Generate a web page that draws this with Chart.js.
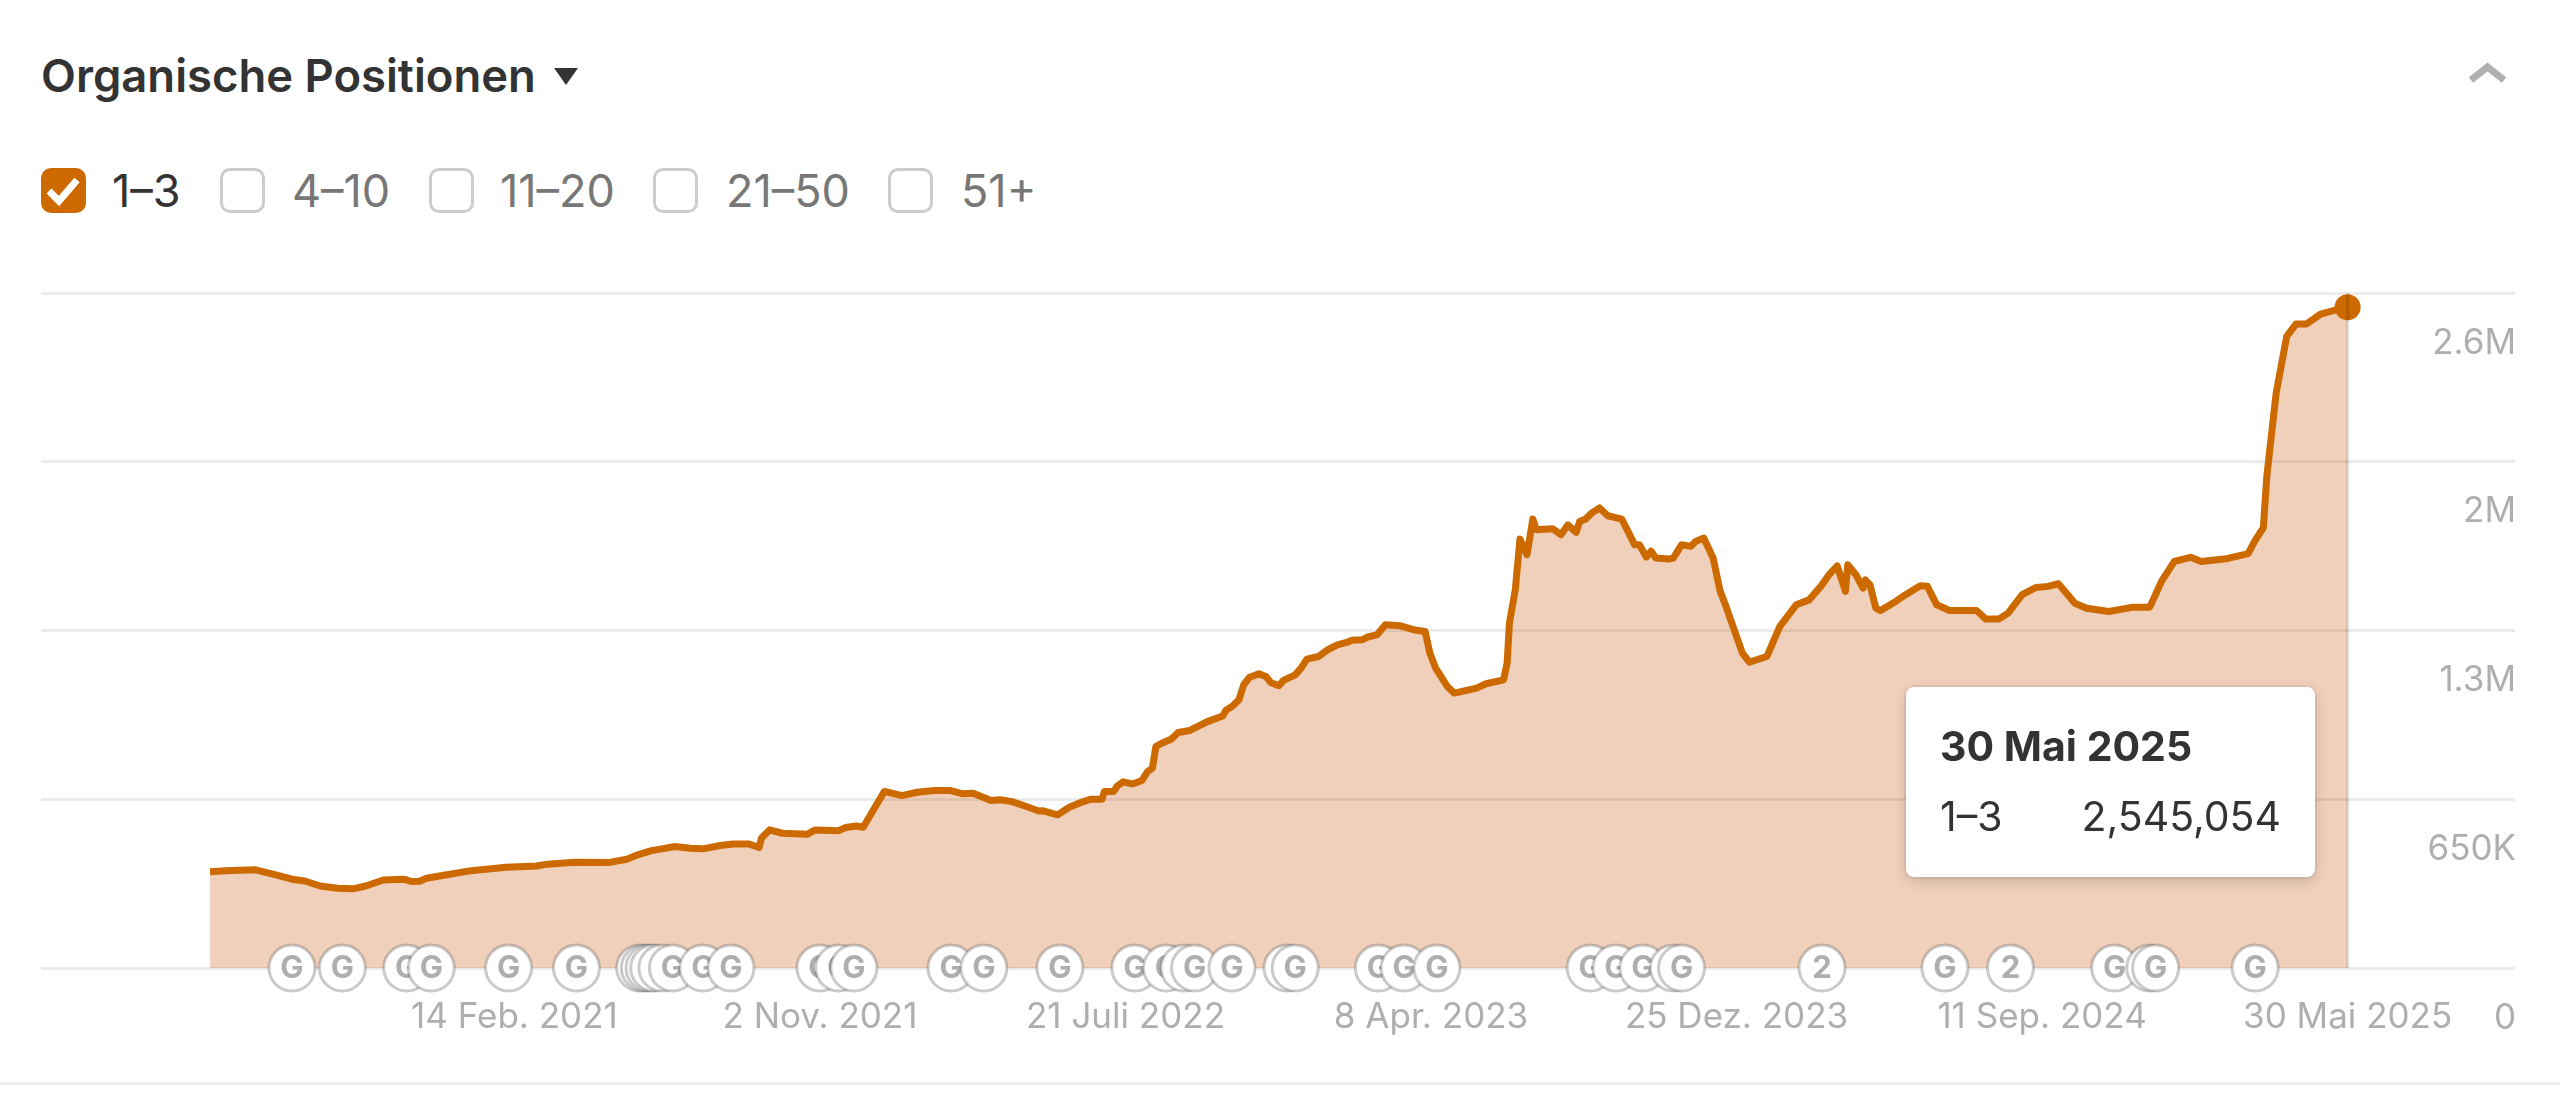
<!DOCTYPE html>
<html><head><meta charset="utf-8">
<script src="https://cdn.jsdelivr.net/npm/chart.js@4"></script>
<style>
html,body{margin:0;padding:0;background:#fff;width:2560px;height:1118px;overflow:hidden;font-family:Inter,sans-serif;color:#333}
#wrap{position:absolute;left:0;top:0;width:2560px;height:1118px}
canvas{position:absolute;left:0;top:0}
.title{position:absolute;left:41px;top:51px;font-size:45.4px;line-height:50px;font-weight:600;color:#333;white-space:nowrap}
.tri{position:absolute;left:554px;top:68px;width:0;height:0;border-left:12.5px solid transparent;border-right:12.5px solid transparent;border-top:17px solid #333}
.chev{position:absolute;left:2465px;top:58px}
.cb{position:absolute;top:168px;width:45px;height:45px;box-sizing:border-box;border:3px solid #ccc;border-radius:10px;background:#fff}
.cb.on{background:#cc6a00;border-color:#cc6a00}
.cb svg{position:absolute;left:-3px;top:-3px}
.lg{position:absolute;top:166px;font-size:45px;line-height:50px;color:#777;white-space:nowrap}
.lg.on{color:#333}
.rule{position:absolute;left:0;right:0;top:1082px;height:3px;background:#ececec}
#tip{position:absolute;box-sizing:border-box;background:#fff;border-radius:8px;box-shadow:0 4px 14px rgba(0,0,0,.16),0 0 0 2px rgba(0,0,0,.05);font-family:Inter,sans-serif;color:#333}
#tip .t{position:absolute;left:34px;top:35px;font-size:41px;line-height:48px;font-weight:700;white-space:nowrap}
#tip .n{position:absolute;left:34px;top:105px;font-size:41px;line-height:48px;white-space:nowrap}
#tip .v{position:absolute;right:34px;top:105px;font-size:41px;line-height:48px;white-space:nowrap}
</style></head><body>
<div id="wrap">
<div class="title">Organische Positionen</div><div class="tri"></div>
<svg class="chev" width="46" height="30" viewBox="0 0 46 30"><polyline points="6,22 22.5,9 39,22" fill="none" stroke="#b0b0b0" stroke-width="7"/></svg>
<div id="legend"></div>
<canvas id="c" width="2560" height="1118" style="width:2560px;height:1118px"></canvas>
<div class="rule"></div>
</div>
<script>
const seriesName = "1–3";
const legendNames = ["1–3","4–10","11–20","21–50","51+"];
const legendBoxX = [41,220,429,653,888];
const legendTextX = [112,292,500,726,961];
const xTickDays = [260,521,782,1043,1304,1565,1826];
const xTickLabels = ["14 Feb. 2021","2 Nov. 2021","21 Juli 2022","8 Apr. 2023","25 Dez. 2023","11 Sep. 2024","30 Mai 2025"];
const yTickValues = [0,650000,1300000,1950000,2600000];
const yTickLabels = ["0","650K","1.3M","2M","2.6M"];
const tooltipDate = "30 Mai 2025";
const tooltipValue = "2,545,054";
const seriesDays = [0,13,39,57,70,81,94,109,122,133,148,166,172,179,185,201,223,253,279,288,312,340,356,366,377,386,397,410,421,436,447,460,469,471,478,489,510,517,537,543,552,558,565,576,591,604,619,632,643,652,667,
675,685,695,708,711,724,734,745,752,762,764,772,775,780,788,796,801,805,808,813,821,827,837,852,865,868,873,879,883,888,896,902,906,913,917,927,932,937,947,955,963,971,975,984,989,997,1004,1017,
1028,1038,1042,1047,1057,1063,1082,1090,1105,1108,1110,1115,1119,1125,1130,1133,1147,1154,1160,1167,1170,1175,1181,1187,1194,1206,1212,1217,1221,1227,1231,1235,1246,1250,1257,1265,1269,1276,1284,1290,1295,1305,1309,1315,1330,1341,1355,1366,1376,1383,1390,1397,1399,1406,1412,1414,1418,1423,1427,1440,1446,1461,1467,1475,1486,1509,1517,1528,1536,
1548,1560,1570,1579,1593,1603,1622,1643,1657,1667,1678,1692,1701,1722,1741,1747,1754,1757,1765,1774,1782,1791,1803,1817,1826];
const seriesThousands = [371,375,378,358,342,335,316,307,305,316,339,342,333,334,346,358,375,388,393,400,407,406,419,437,452,459,468,461,459,472,478,478,464,500,532,519,515,532,529,541,547,542,596,680,664,677,684,684,671,673,645,
648,641,626,605,606,590,619,639,650,650,680,680,701,717,709,722,757,770,853,866,881,907,915,949,971,994,1007,1033,1091,1120,1133,1123,1100,1087,1108,1129,1155,1190,1200,1226,1245,1254,1262,1264,1275,1284,1322,1318,
1303,1296,1213,1155,1084,1059,1078,1095,1110,1174,1328,1457,1652,1592,1729,1688,1692,1669,1707,1678,1720,1729,1755,1772,1742,1729,1675,1630,1630,1583,1605,1579,1575,1579,1630,1624,1643,1656,1579,1451,1393,1264,1213,1178,1200,1316,1399,1418,1470,1515,1549,1451,1553,1515,1463,1495,1476,1386,1377,1412,1431,1472,1470,1399,1377,1377,1344,1344,1367,
1438,1466,1470,1480,1405,1386,1373,1390,1390,1489,1566,1582,1566,1576,1596,1647,1695,1894,2215,2433,2481,2481,2519,2536,2545.054];
const markerDays = [70,113,168,189,255,313,367,371,375,379,386,395,421,445,521,537,550,633,661,726,790,817,832,841,873,920,927,998,1020,1048,1179,1201,1224,1250,1257,1377,1482,1538,1627,1657,1662,1747];
const markerGlyphs = ["G","G","G","G","G","G","G","G","G","G","G","G","G","G","G","G","G","G","G","G","G","G","G","G","G","G","G","G","G","G","G","G","G","G","G","2","G","2","G","G","G","G"];

const ORANGE = "#cc6a00";
const legend = document.getElementById("legend");
legendNames.forEach((n,i)=>{
  const b=document.createElement("div"); b.className="cb"+(i===0?" on":""); b.style.left=legendBoxX[i]+"px";
  if(i===0) b.innerHTML='<svg width="45" height="45" viewBox="0 0 45 45"><polyline points="8,23 18,33 36,12" fill="none" stroke="#fff" stroke-width="7"/></svg>';
  legend.appendChild(b);
  const t=document.createElement("div"); t.className="lg"+(i===0?" on":""); t.style.left=legendTextX[i]+"px"; t.textContent=n;
  legend.appendChild(t);
});

const values = seriesThousands.map(v=>v*1000);
const last = values.length-1;

const markerPlugin = {
  id:"markerPlugin",
  beforeDatasetDraw(chart,args){ if(args.index===2) return false; },
  afterDatasetsDraw(chart){
    const ctx=chart.ctx, meta=chart.getDatasetMeta(2);
    ctx.save();
    meta.data.forEach((el,i)=>{
      el.draw(ctx);
      ctx.font="700 31px Inter, sans-serif"; ctx.fillStyle="#aeaeae"; ctx.textAlign="center"; ctx.textBaseline="middle";
      ctx.fillText(markerGlyphs[i],el.x,el.y+1);
    });
    ctx.restore();
  }
};

function externalTip(ctx){
  let d=document.getElementById("tip");
  if(!d){d=document.createElement("div");d.id="tip";document.getElementById("wrap").appendChild(d);}
  d.style.left="1906px";d.style.top="687px";d.style.width="409px";d.style.height="190px";
  d.innerHTML='<div class="t">'+tooltipDate+'</div><div class="n">'+seriesName+'</div><div class="v">'+tooltipValue+'</div>';
}

const chart = new Chart(document.getElementById("c"),{
  type:"line",
  plugins:[markerPlugin],
  data:{datasets:[
    {label:seriesName,data:seriesDays.map((d,i)=>({x:d,y:values[i]})),borderColor:ORANGE,backgroundColor:"rgba(200,85,10,0.28)",borderWidth:7,fill:"origin",tension:0,borderJoinStyle:"round",
     pointRadius:c=>c.dataIndex===last?13:0,pointBackgroundColor:ORANGE,pointBorderWidth:0,clip:false,order:1},
    {label:"cursor",data:[{x:seriesDays[last],y:0},{x:seriesDays[last],y:yTickValues[4]}],borderColor:"rgba(0,0,0,0.12)",borderWidth:3,pointRadius:0,fill:false,order:0},
    {label:"updates",type:"scatter",data:markerDays.map(d=>({x:d,y:0})),pointRadius:23,pointBackgroundColor:"#fff",pointBorderColor:"rgba(90,90,90,0.32)",pointBorderWidth:3,clip:false,order:2}
  ]},
  options:{
    responsive:false,animation:false,devicePixelRatio:1,events:[],
    layout:{padding:{left:41,right:43,top:293,bottom:52}},
    scales:{
      x:{type:"linear",min:-144.4,max:1969,border:{display:false},grid:{display:false,drawTicks:false},
        afterBuildTicks:s=>{s.ticks=xTickDays.map(v=>({value:v}));},
        ticks:{autoSkip:false,maxRotation:0,minRotation:0,padding:28,color:"#aeaeae",font:{family:"Inter",size:35},
          callback:(v,i)=>xTickLabels[i]}},
      y:{position:"right",min:0,max:yTickValues[4],border:{display:false},grid:{color:"#ebebeb",lineWidth:3,drawTicks:false},
        afterBuildTicks:s=>{s.ticks=yTickValues.map(v=>({value:v}));},
        ticks:{mirror:true,padding:1,labelOffset:50,color:"#aeaeae",font:{family:"Inter",size:35},
          callback:(v,i)=>yTickLabels[i]}}
    },
    plugins:{legend:{display:false},title:{display:false},tooltip:{enabled:false,external:externalTip,mode:"nearest"}}
  }
});
chart.tooltip.setActiveElements([{datasetIndex:0,index:last}],{x:2347,y:307});
chart.update("none");
</script>
</body></html>
